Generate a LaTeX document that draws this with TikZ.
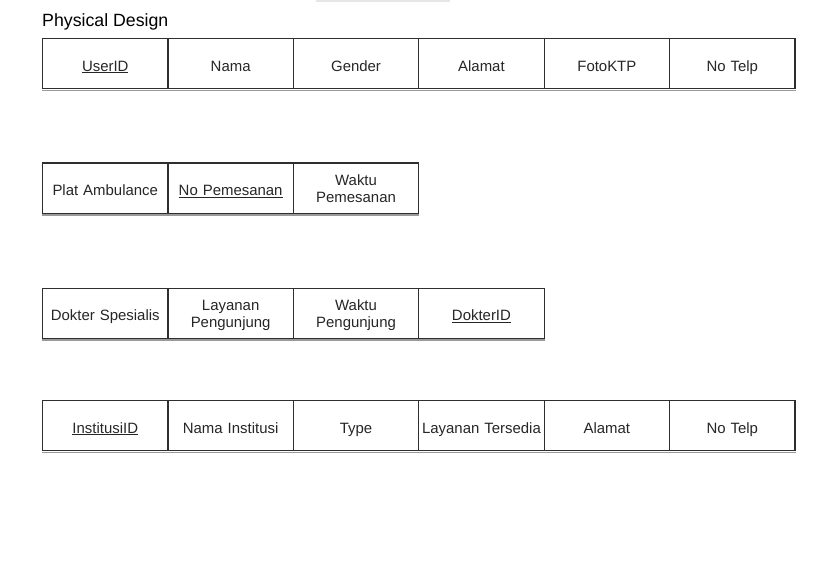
\documentclass[tikz,border=0pt]{standalone}
\usepackage{fontspec}
\setmainfont{Liberation Sans}
\definecolor{linec}{HTML}{2E2E2E}
\definecolor{textc}{HTML}{262626}
\definecolor{shadc}{HTML}{9A9A9A}
\definecolor{topgray}{HTML}{E6E6E6}
\newcommand\cellfontsel{\fontsize{15}{17.6}\selectfont}
\newcommand\titlefontsel{\fontsize{17.8}{20}\selectfont}
\newcommand\keyu[1]{\underline{#1}}
% single-line cell text: height 19bp, depth 4bp
\newcommand\one[1]{\rule[-4bp]{0pt}{23bp}#1}
% two-line cell text: first line height 16bp, last line depth 4.2bp
\newcommand\two[2]{\rule{0pt}{16bp}#1\\#2\rule[-4.2bp]{0pt}{4.2bp}}
\tikzset{
  cell/.style={draw=linec, line width=1.1bp, minimum width=125.4bp, minimum height=50bp,
    inner sep=0pt, anchor=north west, font=\cellfontsel, text=textc, align=center,
    text width=124bp},
  shad/.style={draw=shadc, line width=1.3bp}
}
\begin{document}
\begin{tikzpicture}[x=1bp,y=-1bp]
\useasboundingbox[fill=white] (0,0) rectangle (837,586);
\fill[topgray] (316,0) rectangle (450,2.2);
\node[anchor=base west, inner sep=0pt, font=\titlefontsel, text=black] (title) at (42,26.7) {Physical Design};
% Table 1
\foreach \i/\t in {1/{\one{\keyu{UserID}}},2/{\one{Nama}},3/{\one{Gender}},4/{\one{Alamat}},5/{\one{FotoKTP}},6/{\one{No Telp}}}
  \node[cell] (a\i) at ({42+125.4*(\i-1)},38) {\t};
\draw[shad] ([yshift=-1.3bp]a1.south west) -- ([yshift=-1.3bp]a6.south east);
% Table 2
\foreach \i/\t in {1/{\one{Plat Ambulance}},2/{\one{\keyu{No Pemesanan}}},3/{\two{Waktu}{Pemesanan}}}
  \node[cell] (b\i) at ({42+125.4*(\i-1)},162.5) {\t};
\draw[shad] ([yshift=-1.3bp]b1.south west) -- ([yshift=-1.3bp]b3.south east);
% Table 3
\foreach \i/\t in {1/{\one{Dokter Spesialis}},2/{\two{Layanan}{Pengunjung}},3/{\two{Waktu}{Pengunjung}},4/{\one{\keyu{DokterID}}}}
  \node[cell] (c\i) at ({42+125.4*(\i-1)},287.5) {\t};
\draw[shad] ([yshift=-1.3bp]c1.south west) -- ([yshift=-1.3bp]c4.south east);
% Table 4
\foreach \i/\t in {1/{\one{\keyu{InstitusiID}}},2/{\one{Nama Institusi}},3/{\one{Type}},4/{\one{Layanan Tersedia}},5/{\one{Alamat}},6/{\one{No Telp}}}
  \node[cell] (d\i) at ({42+125.4*(\i-1)},400) {\t};
\draw[shad] ([yshift=-1.3bp]d1.south west) -- ([yshift=-1.3bp]d6.south east);
\end{tikzpicture}
\end{document}
